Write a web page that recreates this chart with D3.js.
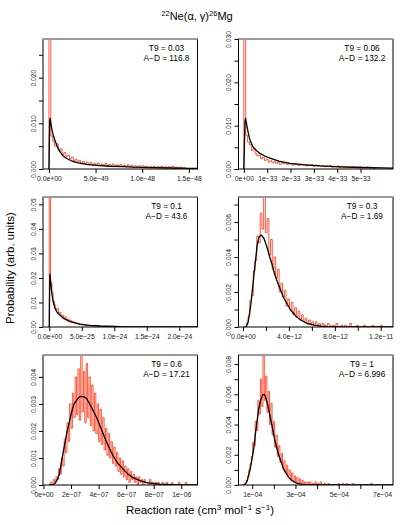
<!DOCTYPE html>
<html><head><meta charset="utf-8">
<script src="https://cdn.jsdelivr.net/npm/d3@7"></script>
<style>body{margin:0;background:#fff}text{font-family:"Liberation Sans",Arial,sans-serif}</style>
</head><body><svg id="c" width="400" height="525"></svg>
<script>
// ---------- DATA (histogram heights in units of 1e-5 probability) ----------
const histP1 = [3000,720,600,500,550,400,440,320,360,280,300,220,260,180,210,160,190,130,160,120,150,100,140,90,120,100,130,80,110,90,120,70,100,80,110,60,90,70,100,60,80,50,90,60,80,40,70,50,70,40,70,50,60,30,60,40,60,30,50,40,60,30,50,30,50,40,60,20,40,30,40,20,30];
const histP2 = [3000,780,620,560,430,480,350,300,320,240,270,200,220,160,190,150,170,130,160,110,150,120,140,100,130,110,90,120,100,80,110,90,100,70,90,80,100,60,90,70,80,60,80,50,70,60,80,40,60,50,70,40,60,50,60,30,50,40,60,30,50,40,50,30,40,30,50,20,40,20];
const histP3 = [6000,1800,1400,1050,900,700,760,560,600,430,480,350,420,300,330,240,280,200,230,160,190,130,150,100,120,80,100,60,80,50,70,40,60,30,50,30,40,20,30,20,30,10,20,10,20,10,10,0,10,10,0,10,0,10,0,0,10,0,0,10];
const histP4 = [20,60,150,180,320,380,520,480,650,560,760,540,620,410,500,330,400,280,330,200,250,170,210,120,160,100,140,70,110,60,90,40,70,30,50,20,40,20,30,10,30,10,20,0,20,10,0,20,10,0,10,0,20,0,0,10,0,10,0,0,20,0,0,0,10,0,0,0,10,0,0,0,0,10,0,0,0,0,10,0];
const histP5 = [0,10,0,20,10,30,20,60,40,100,70,170,120,230,160,300,210,340,250,400,260,430,240,490,270,420,230,450,250,400,220,370,200,340,190,300,160,280,150,250,130,210,110,190,100,160,80,140,70,120,50,100,40,90,30,70,20,60,10,50,20,40,10,30,0,30,10,20,0,20,10,10,0,20,0,10,0,10,0,10,0,0,10,0,0,10,0,0,0,10,0,0,0,0,10,0,0,0,0,10,0,0,0,0];
const histP6 = [0,10,30,60,100,140,190,280,260,420,360,560,470,700,520,880,560,720,480,620,400,540,330,420,250,330,190,260,150,210,110,160,80,130,60,100,40,80,30,60,20,50,10,40,10,30,0,20,10,20,0,20,0,10,0,20,0,10,0,20,0,0,10,0,0,10,0,0,0,0,0,0,0,10,0,0,10,0,0,10,0,0,0,0,10,0,0,0,0,0,0,0,0,0,0,0,0,0,10,0];
// bin start and width (in each panel's x unit)
const binStart = [0, 0, 0, 0.3, 0.4, 0.6];
const binWidth = [0.02, 0.08, 0.02, 0.15, 0.1, 0.06];
// fitted curves: [x (panel unit), probability]
const curveP1 = [[0,0],[0.004,0.006],[0.008,0.0105],[0.012,0.0111],[0.02,0.0100],[0.035,0.0083],[0.05,0.0071],[0.064,0.0063],[0.09,0.0048],[0.118,0.0038],[0.15,0.0029],[0.19,0.0023],[0.24,0.0018],[0.3,0.0014],[0.4,0.0010],[0.51,0.0008],[0.65,0.0006],[0.8,0.0005],[0.9,0.0004],[1.1,0.0003],[1.3,0.00022],[1.51,0.00015],[1.593,0.00012]];
const curveP2 = [[0,0],[0.03,0.007],[0.05,0.011],[0.07,0.0117],[0.12,0.0103],[0.19,0.0083],[0.26,0.0067],[0.4,0.005],[0.55,0.0042],[0.69,0.0036],[0.9,0.003],[1.12,0.0025],[1.5,0.0018],[1.98,0.0013],[2.5,0.001],[3.27,0.0007],[4.1,0.0005],[5.0,0.00035],[6.39,0.0002]];
const curveP3 = [[0,0],[0.004,0.012],[0.01,0.0215],[0.02,0.019],[0.04,0.0135],[0.06,0.0103],[0.087,0.0076],[0.12,0.006],[0.164,0.0049],[0.22,0.0035],[0.32,0.0022],[0.47,0.0012],[0.62,0.0007],[0.78,0.0004],[1.0,0.0002],[1.1,0.0001],[1.4,0.00003],[2.28,0]];
const curveP4 = [[0.1,0],[0.28,0],[0.45,0.0003],[0.66,0.00116],[0.8,0.002],[0.94,0.00287],[1.09,0.0038],[1.24,0.00469],[1.38,0.0051],[1.53,0.00526],[1.67,0.0052],[1.82,0.00507],[1.97,0.0048],[2.12,0.0045],[2.33,0.004],[2.55,0.00354],[2.77,0.0030],[2.99,0.00259],[3.28,0.0021],[3.57,0.00164],[3.86,0.0013],[4.15,0.00097],[4.6,0.00062],[5.03,0.0004],[5.6,0.0002],[6.19,0.00011],[6.8,0.00005],[7.36,0.00002],[8.5,0],[13.07,0]];
const curveP5 = [[0.4,0],[0.59,0],[0.8,0.00004],[0.955,0.00015],[1.15,0.0004],[1.32,0.0009],[1.5,0.0014],[1.68,0.00189],[1.86,0.0023],[2.04,0.0027],[2.22,0.003],[2.4,0.00313],[2.58,0.00325],[2.76,0.00328],[2.95,0.00326],[3.13,0.0032],[3.35,0.003],[3.6,0.00276],[3.85,0.0025],[4.09,0.0022],[4.33,0.0019],[4.57,0.0016],[4.81,0.00133],[5.05,0.00108],[5.4,0.0008],[5.77,0.00059],[6.1,0.00042],[6.5,0.00027],[7.0,0.00016],[7.47,0.00009],[8.43,0.00003],[9.4,0.00001],[11.2,0]];
const curveP6 = [[0.55,0],[0.61,0],[0.7,0.00008],[0.77,0.00027],[0.85,0.0007],[0.92,0.00115],[1.0,0.0018],[1.08,0.00249],[1.15,0.0034],[1.23,0.0043],[1.31,0.0051],[1.39,0.0056],[1.49,0.00598],[1.56,0.0060],[1.62,0.00582],[1.7,0.0054],[1.77,0.00493],[1.85,0.0044],[1.93,0.00382],[2.01,0.0032],[2.09,0.00271],[2.2,0.0021],[2.32,0.0016],[2.44,0.0011],[2.55,0.00082],[2.7,0.00048],[2.86,0.00027],[3.05,0.00012],[3.24,0.00005],[3.5,0.00001],[3.71,0],[7.51,0]];
// annotations
const t9Labels = ["0.03","0.06","0.1","0.3","0.6","1"];
const adLabels = ["116.8","132.2","43.6","1.69","17.21","6.996"];
// axis domains (panel x units) and y maxima
const xDomains = [[-0.064,1.593],[-0.23,6.39],[-0.0966,2.28],[-0.39,13.07],[-0.036,11.18],[0.367,7.51]];
const yMaxes = [0.02845,0.030,0.053,0.00743,0.00481,0.0086];
// ticks
const xTickVals = [[0,0.5,1,1.5],[0,1,2,3,4,5],[0,0.5,1,1.5,2],[0,2,4,6,8,10,12],[0,2,4,6,8,10],[1,2,3,4,5,6,7]];
const xTickLabels = [
  ["0.0e+00","5.0e\u221249","1.0e\u221248","1.5e\u221248"],
  ["0e+00","1e\u221233","2e\u221233","3e\u221233","4e\u221233","5e\u221233"],
  ["0.0e+00","5.0e\u221225","1.0e\u221224","1.5e\u221224","2.0e\u221224"],
  ["0.0e+00","","4.0e\u221212","","8.0e\u221212","","1.2e\u221211"],
  ["0e+00","2e\u221207","4e\u221207","6e\u221207","8e\u221207","1e\u221206"],
  ["1e\u221204","","3e\u221204","","5e\u221204","","7e\u221204"]];
const yTickVals = [[0,0.005,0.01,0.015,0.02,0.025],[0,0.005,0.01,0.015,0.02,0.025,0.03],[0,0.01,0.02,0.03,0.04,0.05],[0,0.001,0.002,0.003,0.004,0.005,0.006,0.007],[0,0.001,0.002,0.003,0.004],[0,0.001,0.002,0.003,0.004,0.005,0.006,0.007,0.008]];
const yTickLabels = [
  ["0.000","","0.010","","0.020",""],
  ["0.000","","0.010","","0.020","","0.030"],
  ["0.00","0.01","0.02","0.03","0.04","0.05"],
  ["0.000","","0.002","","0.004","","0.006",""],
  ["0.000","0.001","0.002","0.003","0.004"],
  ["0.000","","0.002","","0.004","","0.006","","0.008"]];

// ---------- LAYOUT ----------
const hists = [histP1,histP2,histP3,histP4,histP5,histP6];
const curves = [curveP1,curveP2,curveP3,curveP4,curveP5,curveP6];
const colX = [43, 238.5], rowY = [39, 197, 355], PW = 154.5, PH = 130;
const svg = d3.select("#c");
svg.append("rect").attr("width",400).attr("height",525).attr("fill","#fff");

hists.forEach((hist, k) => {
  const x0 = colX[k % 2], y0 = rowY[Math.floor(k / 2)];
  const x = d3.scaleLinear().domain(xDomains[k]).range([0, PW]);
  const y = d3.scaleLinear().domain([0, yMaxes[k]]).range([PH, 0]);
  const g = svg.append("g").attr("transform", `translate(${x0},${y0})`);
  const cid = "clip" + k;
  g.append("clipPath").attr("id", cid).append("rect").attr("width", PW).attr("height", PH);
  const plot = g.append("g").attr("clip-path", `url(#${cid})`);

  const pts = [[binStart[k], 0]];
  hist.forEach((v, i) => pts.push([binStart[k] + i * binWidth[k], v * 1e-5]));
  pts.push([binStart[k] + hist.length * binWidth[k], 0]);
  const stepLine = d3.line().x(d => x(d[0])).y(d => y(d[1])).curve(d3.curveStepAfter);
  plot.append("path").attr("d", stepLine(pts)).attr("fill", "none")
    .attr("stroke", "#ff3c1c").attr("stroke-opacity", 0.85).attr("stroke-width", 1);

  const line = d3.line().x(d => x(d[0])).y(d => y(d[1]));
  plot.append("path").attr("d", line(curves[k])).attr("fill", "none")
    .attr("stroke", "#000").attr("stroke-width", 1.3).attr("stroke-linejoin", "round");

  // box
  g.append("rect").attr("width", PW).attr("height", PH).attr("fill", "none").attr("stroke", "#000").attr("stroke-width", 1);
  g.append("line").attr("x1", 0).attr("x2", PW).attr("y1", 0).attr("y2", 0).attr("stroke", "#9a9a9a").attr("stroke-width", 2);

  // axes
  const yl = yTickLabels[k];
  const ya = g.append("g").call(d3.axisLeft(y).tickValues(yTickVals[k]).tickSize(4).tickFormat((d, i) => yl[i]));
  ya.select(".domain").remove();
  ya.selectAll("line").attr("stroke", "#000");
  ya.selectAll("text").attr("transform", "rotate(-90)").attr("x", 0).attr("y", -7.5).attr("dy", 0)
    .attr("text-anchor", "middle").style("font-size", "6.8px").attr("fill", "#222").style("font-family", '"Liberation Sans",Arial,sans-serif');

  const xl = xTickLabels[k];
  const xa = g.append("g").attr("transform", `translate(0,${PH})`)
    .call(d3.axisBottom(x).tickValues(xTickVals[k]).tickSize(4).tickFormat((d, i) => xl[i]));
  xa.select(".domain").remove();
  xa.selectAll("line").attr("stroke", "#000");
  xa.selectAll("text").style("font-size", "6.8px").attr("fill", "#222").attr("y", 7)
    .style("font-family", '"Liberation Sans",Arial,sans-serif');

  // annotation
  const ax = PW - 31;
  g.append("text").attr("x", ax).attr("y", 12).attr("text-anchor", "middle").style("font-size", "8.3px").text("T9 = " + t9Labels[k]);
  g.append("text").attr("x", ax).attr("y", 21.5).attr("text-anchor", "middle").style("font-size", "8.3px").text("A\u2212D = " + adLabels[k]);
});

// title
const t = svg.append("text").attr("x", 197).attr("y", 20).attr("text-anchor", "middle").style("font-size", "11px");
t.append("tspan").attr("dy", -4).style("font-size", "7.5px").text("22");
t.append("tspan").attr("dy", 4).text("Ne(\u03b1, \u03b3)");
t.append("tspan").attr("dy", -4).style("font-size", "7.5px").text("26");
t.append("tspan").attr("dy", 4).text("Mg");

// y label
svg.append("text").attr("transform", "translate(14,268) rotate(-90)").attr("text-anchor", "middle")
  .style("font-size", "11.5px").text("Probability (arb. units)");

// x label
const xt = svg.append("text").attr("x", 200).attr("y", 514).attr("text-anchor", "middle").style("font-size", "11.5px");
xt.append("tspan").text("Reaction rate (cm");
xt.append("tspan").attr("dy", -4).style("font-size", "8px").text("3");
xt.append("tspan").attr("dy", 4).text(" mol");
xt.append("tspan").attr("dy", -4).style("font-size", "8px").text("\u22121");
xt.append("tspan").attr("dy", 4).text(" s");
xt.append("tspan").attr("dy", -4).style("font-size", "8px").text("\u22121");
xt.append("tspan").attr("dy", 4).text(")");
</script></body></html>
